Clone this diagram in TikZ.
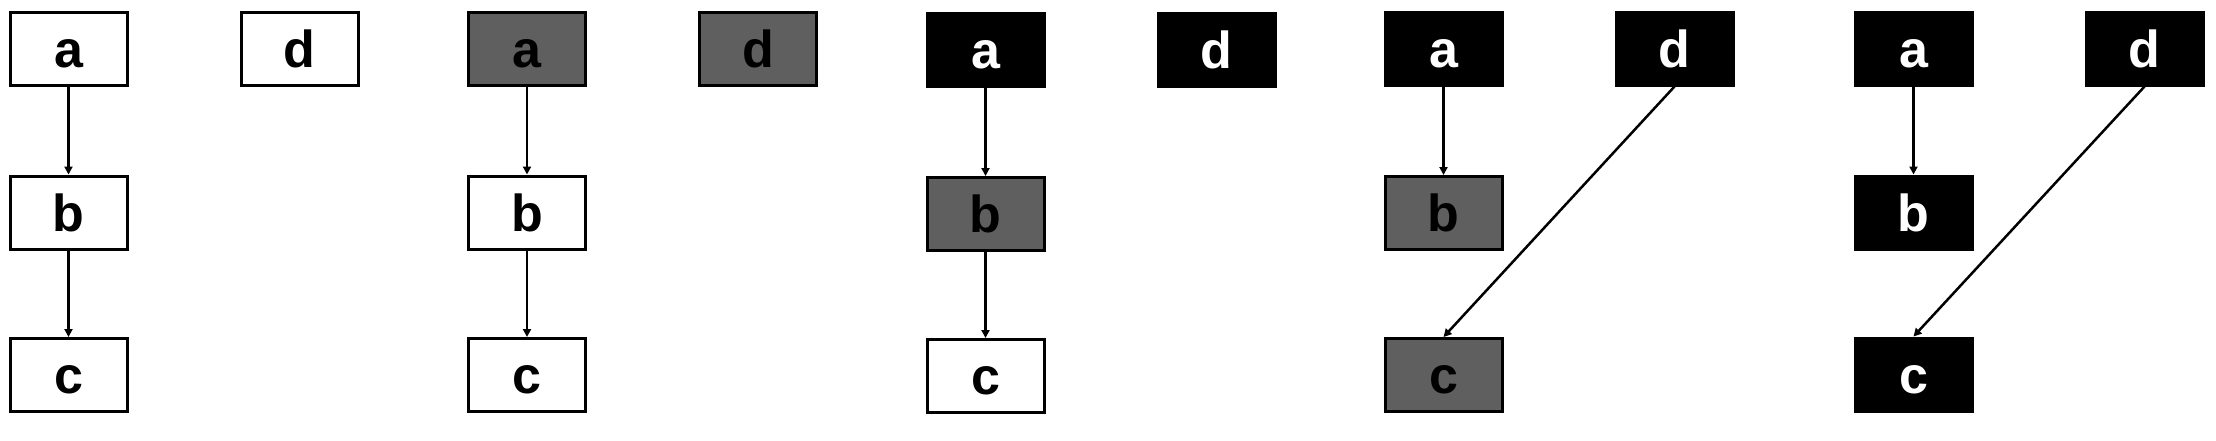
\documentclass[tikz,border=0pt]{standalone}
\usepackage{fontspec}
\setmainfont{Liberation Sans}
\usetikzlibrary{arrows.meta}
\definecolor{midgray}{HTML}{5F5F5F}
\tikzset{
  box/.style={draw=black, line width=3pt, minimum width=117pt, minimum height=73pt,
    inner sep=0pt, font=\fontsize{52}{60}\selectfont\bfseries, text height=37pt, text depth=0pt},
  wbox/.style={box, fill=white, text=black},
  gbox/.style={box, fill=midgray, text=black},
  bbox/.style={box, fill=black, text=white},
  link/.style={line width=2.5pt, -{Triangle[length=8pt,width=8pt]}},
}
\begin{document}
\begin{tikzpicture}[x=1pt,y=-1pt]
\useasboundingbox (0,0) rectangle (2216,440);
% panel 1
\node[wbox] (a1) at (68.5,48.5) {a};
\node[wbox] (b1) at (68.5,212.5) {b};
\node[wbox] (c1) at (68.5,375) {c};
\node[wbox] (d1) at (299.5,48.5) {d};
\draw[link] (a1) -- (b1);
\draw[link] (b1) -- (c1);
% panel 2
\node[gbox] (a2) at (527,48.5) {a};
\node[wbox] (b2) at (527,212.5) {b};
\node[wbox] (c2) at (527,375) {c};
\node[gbox] (d2) at (758,48.5) {d};
\draw[link] (a2) -- (b2);
\draw[link] (b2) -- (c2);
% panel 3
\node[bbox] (a3) at (985.5,49.5) {a};
\node[gbox] (b3) at (985.5,214) {b};
\node[wbox] (c3) at (985.5,376) {c};
\node[bbox] (d3) at (1216.5,49.5) {d};
\draw[link] (a3) -- (b3);
\draw[link] (b3) -- (c3);
% panel 4
\node[bbox] (a4) at (1443.5,48.5) {a};
\node[gbox] (b4) at (1443.5,213) {b};
\node[gbox] (c4) at (1443.5,375) {c};
\node[bbox] (d4) at (1674.5,48.5) {d};
\draw[link] (a4) -- (b4);
\draw[link] (d4.south) -- (c4.north);
% panel 5
\node[bbox] (a5) at (1913.5,48.5) {a};
\node[bbox] (b5) at (1913.5,212.5) {b};
\node[bbox] (c5) at (1913.5,374.5) {c};
\node[bbox] (d5) at (2144.5,48.5) {d};
\draw[link] (a5) -- (b5);
\draw[link] (d5.south) -- (c5.north);
\end{tikzpicture}
\end{document}
